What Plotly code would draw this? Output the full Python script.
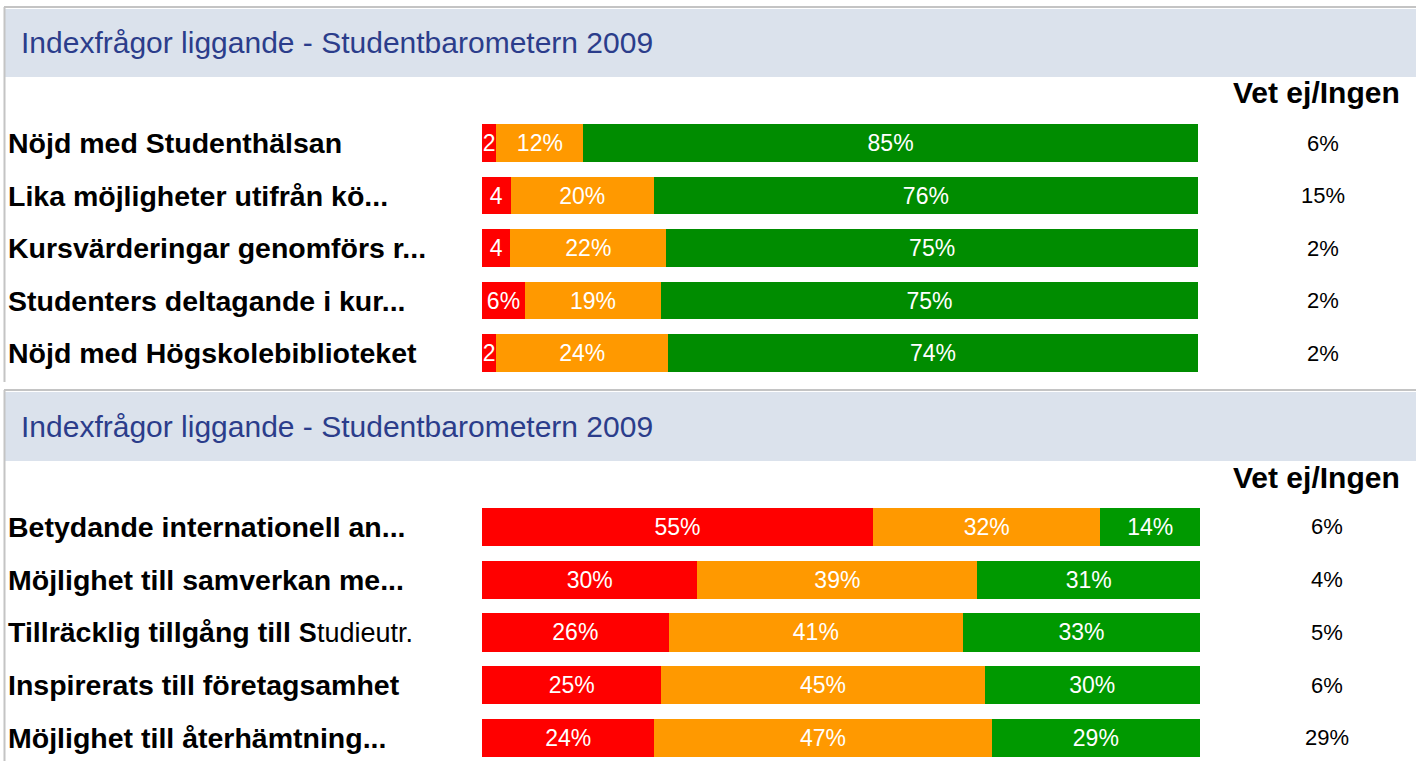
import plotly.graph_objects as go

W, H = 1416, 761

title_text = "Indexfrågor liggande - Studentbarometern 2009"
vet_header = "Vet ej/Ingen"

# Panel 1
cats1 = ["Nöjd med Studenthälsan",
         "Lika möjligheter utifrån kö...",
         "Kursvärderingar genomförs r...",
         "Studenters deltagande i kur...",
         "Nöjd med Högskolebiblioteket"]
red1 = [2, 4, 4, 6, 2]
orange1 = [12, 20, 22, 19, 24]
green1 = [85, 76, 75, 75, 74]
vet1 = ["6%", "15%", "2%", "2%", "2%"]

# Panel 2
cats2 = ["Betydande internationell an...",
         "Möjlighet till samverkan me...",
         "Tillräcklig tillgång till <span style='font-family:Liberation Sans;font-weight:normal;font-size:27px'><b>S</b>tudieutr.</span>",
         "Inspirerats till företagsamhet",
         "Möjlighet till återhämtning..."]
red2 = [55, 30, 26, 25, 24]
orange2 = [32, 39, 41, 45, 47]
green2 = [14, 31, 33, 30, 29]
vet2 = ["6%", "4%", "5%", "6%", "29%"]

RED, ORANGE = "#ff0000", "#ff9900"
GREEN1, GREEN2 = "#008c00", "#009900"


def px_x(x):
    return x / W


def px_y(y):
    return 1 - y / H


def lab(v):
    return f"{v}" if v < 5 else f"{v}%"


fig = go.Figure()

keys = list(range(5))

for vals, col, xa, ya in [(red1, RED, "x", "y"), (orange1, ORANGE, "x", "y"), (green1, GREEN1, "x", "y"),
                          (red2, RED, "x2", "y2"), (orange2, ORANGE, "x2", "y2"), (green2, GREEN2, "x2", "y2")]:
    fig.add_trace(go.Bar(
        x=vals, y=keys, orientation="h", xaxis=xa, yaxis=ya,
        marker=dict(color=col, line=dict(width=0)),
        text=[lab(v) for v in vals], textposition="inside", insidetextanchor="middle",
        textangle=0, cliponaxis=False,
        textfont=dict(family="Liberation Sans", size=23, color="white"),
        hoverinfo="skip", showlegend=False,
    ))

# Row geometry (pixels)
top1_y0, row1_h = 116.75, 52.5
top2_y0, row2_h = 500.6, 52.75

y1_top, y1_bot = top1_y0, top1_y0 + 5 * row1_h
y2_top = top2_y0
y2_bot = H
y2_range_bottom = -0.5 + (y2_bot - y2_top) / row2_h

fig.update_layout(
    width=W, height=H,
    margin=dict(l=0, r=0, t=0, b=0),
    paper_bgcolor="white", plot_bgcolor="white",
    barmode="stack", barnorm="percent", bargap=0.277,
    uniformtext=dict(minsize=23, mode="show"),
    xaxis=dict(domain=[px_x(482), px_x(1198)], range=[0, 100.01], visible=False, fixedrange=True),
    yaxis=dict(domain=[px_y(y1_bot), px_y(y1_top)], range=[4.5, -0.5], visible=False, anchor="x"),
    xaxis2=dict(domain=[px_x(482), px_x(1200)], range=[0, 100.01], visible=False, anchor="y2"),
    yaxis2=dict(domain=[0, px_y(y2_top)], range=[y2_range_bottom, -0.5], visible=False, anchor="x2"),
)

shapes = []
annotations = []

for border_top, band_top, band_bot, frame_bot in [(7, 9, 77, 382), (390, 392, 461, 761)]:
    shapes.append(dict(type="rect", xref="paper", yref="paper",
                       x0=px_x(5), x1=1.0, y0=px_y(band_bot), y1=px_y(band_top),
                       fillcolor="#dbe2ec", line=dict(width=0), layer="below"))
    shapes.append(dict(type="line", xref="paper", yref="paper",
                       x0=px_x(4), x1=1.0, y0=px_y(border_top), y1=px_y(border_top),
                       line=dict(color="#c4c4c4", width=2)))
    shapes.append(dict(type="line", xref="paper", yref="paper",
                       x0=px_x(4.5), x1=px_x(4.5), y0=px_y(frame_bot), y1=px_y(border_top),
                       line=dict(color="#c4c4c4", width=2)))
    annotations.append(dict(text=title_text, xref="paper", yref="paper",
                            x=px_x(19), y=px_y((band_top + band_bot) / 2), xanchor="left", yanchor="middle",
                            showarrow=False,
                            font=dict(family="Liberation Sans", size=30, color="#2b3d8b")))

for hy in [93, 477]:
    annotations.append(dict(text="<b>" + vet_header + "</b>", xref="paper", yref="paper",
                            x=px_x(1316), y=px_y(hy), xanchor="center", yanchor="middle",
                            showarrow=False,
                            font=dict(family="Liberation Sans", size=30, color="black")))

for cats, vets, ya, vx in [(cats1, vet1, "y", 1323), (cats2, vet2, "y2", 1327)]:
    for i, (c, v) in enumerate(zip(cats, vets)):
        annotations.append(dict(text="<b>" + c + "</b>", xref="paper", yref=ya,
                                x=px_x(6), y=i, xanchor="left", yanchor="middle",
                                showarrow=False,
                                font=dict(family="Liberation Sans", size=28.5, color="black")))
        annotations.append(dict(text=v, xref="paper", yref=ya,
                                x=px_x(vx), y=i, xanchor="center", yanchor="middle",
                                showarrow=False,
                                font=dict(family="Liberation Sans", size=22, color="black")))

fig.update_layout(shapes=shapes, annotations=annotations)

fig.write_html("out.html", config={"displayModeBar": False},
               post_script="document.body.style.margin='0';document.body.style.overflow='hidden';")
